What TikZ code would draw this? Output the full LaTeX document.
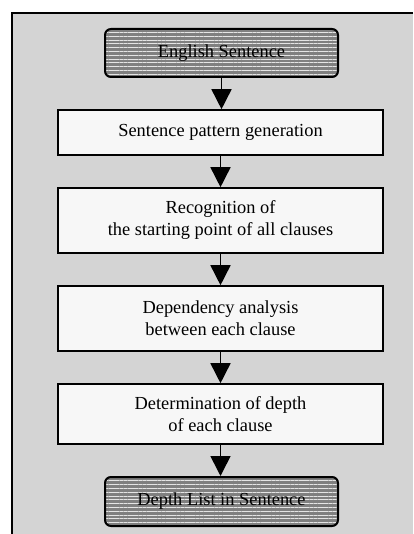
\documentclass[tikz,border=0pt]{standalone}
\usepackage{fontspec}
\setmainfont{Liberation Serif}
\usetikzlibrary{arrows.meta,patterns.meta}
\tikzset{
  stepbox/.style={draw,line width=0.8pt,fill=white!97!black,minimum width=162.5pt,align=center},
  termbox/.style={draw,line width=1pt,rounded corners=3pt,preaction={fill=black!50},
    pattern={Lines[angle=0,distance=1.9pt,line width=0.45pt]},pattern color=white!90!black,
    minimum width=116.5pt,minimum height=24pt},
  flow/.style={-{Triangle[width=10pt,length=10pt]},line width=0.8pt}
}
\begin{document}
\begin{tikzpicture}[x=0.5pt,y=-0.5pt,font=\fontsize{9.2}{11}\selectfont]
			\useasboundingbox (0,0) rectangle (413,534);
			% panel
			\fill[black!17] (12,13) rectangle (413,534);
			\draw[line width=1pt] (413,13)--(12,13)--(12,534);
			% steps
			\node[termbox] (input) at (221.5,53) {English Sentence};
			\node[stepbox,minimum height=22.5pt] (pattern) at (220.5,132.5) {Sentence pattern generation};
			\node[stepbox,minimum height=32.5pt] (start) at (220.5,220.5) {Recognition of\\the starting point of all clauses};
			\node[stepbox,minimum height=32.5pt] (depend) at (220.5,318.5) {Dependency analysis\\between each clause};
			\node[stepbox,minimum height=30pt] (depth) at (220.5,414) {Determination of depth\\of each clause};
			\node[termbox,minimum height=24.5pt] (output) at (221.5,501.5) {Depth List in Sentence};
			% arrows
			\foreach \a/\b in {input/pattern,pattern/start,start/depend,depend/depth,depth/output}
				\draw[flow] (\a.south)--(\a.south |- \b.north);
			\end{tikzpicture}
\end{document}
